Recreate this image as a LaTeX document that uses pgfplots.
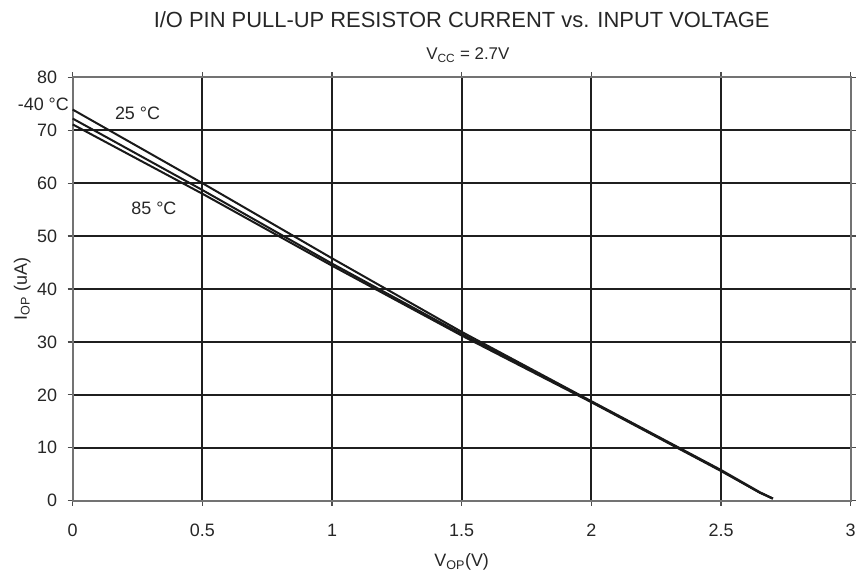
\documentclass[border=0pt]{standalone}
\usepackage{fontspec}
\setmainfont{Liberation Sans}
\usepackage{pgfplots}
\pgfplotsset{compat=1.18}
\begin{document}
\begin{tikzpicture}
\path[use as bounding box] (-72.7bp,-76.3bp) rectangle (787.3bp,500.7bp);
\begin{axis}[
  at={(0,0)}, anchor=south west,
  scale only axis, width=778bp, height=423.4bp,
  xmin=0, xmax=3, ymin=0, ymax=80,
  xtick={0,0.5,1,1.5,2,2.5,3},
  xticklabels={0,0.5,1,1.5,2,2.5,3},
  ytick={0,10,20,30,40,50,60,70,80},
  grid=major,
  major grid style={line width=2bp, black!88},
  axis line style={line width=2bp, black!55},
  tick align=outside, major tick length=5bp,
  tick style={line width=1.2bp, black!70},
  tick label style={font=\fontsize{18}{21}\selectfont, text=black!85},
  xticklabel style={yshift=-15bp},
  yticklabel style={xshift=-7bp},
  /pgf/number format/assume math mode=true,
  clip=false,
  xlabel={V\textsubscript{OP}(V)},
  ylabel={I\textsubscript{OP} (uA)},
  label style={font=\fontsize{18}{21}\selectfont, text=black!85},
  xlabel style={at={(axis description cs:0.5,-0.145)}, anchor=center},
  ylabel style={at={(axis description cs:-0.065,0.5)}, anchor=center},
]
\addplot[line width=2bp, black!90] coordinates {
 (0,73.9) (0.5,60.0) (1,45.8) (1.5,31.9) (2,18.8) (2.5,5.8) (2.65,1.6) (2.7,0.4)};
\addplot[line width=2bp, black!90] coordinates {
 (0,72.2) (0.5,58.7) (1,44.8) (1.5,31.5) (2,18.7) (2.5,5.7) (2.65,1.5) (2.7,0.4)};
\addplot[line width=2bp, black!90] coordinates {
 (0,71.1) (0.5,58.0) (1,44.4) (1.5,31.2) (2,18.6) (2.5,5.6) (2.65,1.5) (2.7,0.4)};
\node[anchor=east, font=\fontsize{18}{21}\selectfont, text=black!85, inner sep=0pt] at (axis cs:-0.014,74.8) {-40 °C};
\node[anchor=center, font=\fontsize{18}{21}\selectfont, text=black!85, inner sep=0pt] at (axis cs:0.25,73.2) {25 °C};
\node[anchor=center, font=\fontsize{18}{21}\selectfont, text=black!85, inner sep=0pt] at (axis cs:0.313,55.2) {85 °C};
\node[anchor=center, font=\fontsize{22}{26}\selectfont, text=black!85] at (axis description cs:0.5,1.135) {I/O PIN PULL-UP RESISTOR CURRENT vs. INPUT VOLTAGE};
\node[anchor=center, font=\fontsize{17}{20}\selectfont, text=black!85] at (axis description cs:0.508,1.052) {V\textsubscript{CC} = 2.7V};
\end{axis}
\end{tikzpicture}
\end{document}
